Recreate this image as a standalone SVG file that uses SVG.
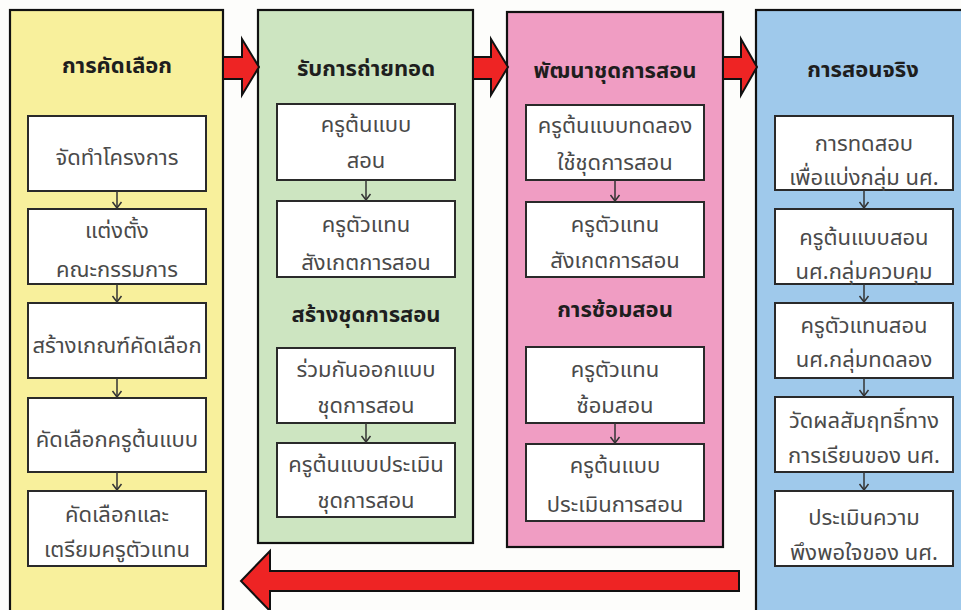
<svg xmlns="http://www.w3.org/2000/svg" width="961" height="610" viewBox="0 0 961 610">
<defs>
<marker id="ahv" markerWidth="12" markerHeight="12" refX="10" refY="6" orient="auto" markerUnits="userSpaceOnUse" viewBox="0 0 12 12">
<path d="M4,1.5 L10,6 L4,10.5" fill="none" stroke="#333" stroke-width="1.5"/>
</marker>
</defs>
<style>
.col{stroke:#111;stroke-width:2.2}
.box{fill:#fff;stroke:#2a2a2a;stroke-width:2}
.t{font-family:"Noto Sans Thai","Noto Sans","DejaVu Sans",sans-serif;font-size:22px;fill:#4a4a4a;text-anchor:middle}
.h{font-family:"Noto Sans Thai","Noto Sans","DejaVu Sans",sans-serif;font-size:22px;font-weight:bold;fill:#1e1e1e;text-anchor:middle}
.ar{fill:#ee2424;stroke:#111;stroke-width:2;stroke-linejoin:miter}
.cn{stroke:#333;stroke-width:1.5;fill:none}
</style>
<rect width="961" height="610" fill="#fdfdfb"/>

<g id="col1">
<rect class="col" x="10" y="10" width="213" height="620" fill="#f8f09c"/>
<text class="h" x="117" y="73">การคัดเลือก</text>
</g>
<g id="col2">
<rect class="col" x="258" y="10" width="215" height="533" fill="#cde5c1"/>
<text class="h" x="366" y="76">รับการถ่ายทอด</text>
<text class="h" x="366" y="322">สร้างชุดการสอน</text>
</g>
<g id="col3">
<rect class="col" x="507" y="12" width="216" height="535" fill="#f09dc3"/>
<text class="h" x="615" y="78">พัฒนาชุดการสอน</text>
<text class="h" x="615" y="317">การซ้อมสอน</text>
</g>
<g id="col4">
<rect class="col" x="756" y="10" width="220" height="620" fill="#9fc9eb"/>
<text class="h" x="863" y="77">การสอนจริง</text>
</g>

<g id="arrows">
<polygon class="ar" points="223,57 242,57 242,39 259,67 242,95 242,79 223,79"/>
<polygon class="ar" points="473,57 491,57 491,39 508,67 491,95 491,79 473,79"/>
<polygon class="ar" points="723,57 741,57 741,39 757,67 741,95 741,79 723,79"/>
<polygon class="ar" points="739,571 270,571 270,551 241,581 270,611 270,591 739,591"/>
</g>

<g id="n1a"><rect class="box" x="28" y="116" width="178" height="75"/><text class="t" x="117" y="165">จัดทำโครงการ</text></g>
<g id="n1b"><rect class="box" x="28" y="209" width="178" height="75"/><text class="t" x="117" y="238">แต่งตั้ง</text><text class="t" x="117" y="277">คณะกรรมการ</text></g>
<g id="n1c"><rect class="box" x="28" y="303" width="178" height="75"/><text class="t" x="117" y="353">สร้างเกณฑ์คัดเลือก</text></g>
<g id="n1d"><rect class="box" x="28" y="398" width="178" height="74"/><text class="t" x="117" y="447">คัดเลือกครูต้นแบบ</text></g>
<g id="n1e"><rect class="box" x="28" y="491" width="178" height="75"/><text class="t" x="117" y="522">คัดเลือกและ</text><text class="t" x="117" y="557">เตรียมครูตัวแทน</text></g>

<g id="n2a"><rect class="box" x="277" y="104" width="178" height="76"/><text class="t" x="366" y="132">ครูต้นแบบ</text><text class="t" x="366" y="168">สอน</text></g>
<g id="n2b"><rect class="box" x="277" y="201" width="178" height="76"/><text class="t" x="366" y="232">ครูตัวแทน</text><text class="t" x="366" y="270">สังเกตการสอน</text></g>
<g id="n2c"><rect class="box" x="277" y="348" width="178" height="75"/><text class="t" x="366" y="377">ร่วมกันออกแบบ</text><text class="t" x="366" y="413">ชุดการสอน</text></g>
<g id="n2d"><rect class="box" x="277" y="443" width="178" height="74"/><text class="t" x="366" y="472">ครูต้นแบบประเมิน</text><text class="t" x="366" y="508">ชุดการสอน</text></g>

<g id="n3a"><rect class="box" x="526" y="105" width="178" height="75"/><text class="t" x="615" y="133">ครูต้นแบบทดลอง</text><text class="t" x="615" y="170">ใช้ชุดการสอน</text></g>
<g id="n3b"><rect class="box" x="526" y="202" width="178" height="75"/><text class="t" x="615" y="232">ครูตัวแทน</text><text class="t" x="615" y="268">สังเกตการสอน</text></g>
<g id="n3c"><rect class="box" x="526" y="347" width="178" height="76"/><text class="t" x="615" y="377">ครูตัวแทน</text><text class="t" x="615" y="413">ซ้อมสอน</text></g>
<g id="n3d"><rect class="box" x="526" y="444" width="178" height="77"/><text class="t" x="615" y="473">ครูต้นแบบ</text><text class="t" x="615" y="512">ประเมินการสอน</text></g>

<g id="n4a"><rect class="box" x="775" y="116" width="178" height="74"/><text class="t" x="864" y="151">การทดสอบ</text><text class="t" x="864" y="185">เพื่อแบ่งกลุ่ม นศ.</text></g>
<g id="n4b"><rect class="box" x="775" y="209" width="178" height="75"/><text class="t" x="864" y="245">ครูต้นแบบสอน</text><text class="t" x="864" y="279">นศ.กลุ่มควบคุม</text></g>
<g id="n4c"><rect class="box" x="775" y="303" width="178" height="75"/><text class="t" x="864" y="333">ครูตัวแทนสอน</text><text class="t" x="864" y="367">นศ.กลุ่มทดลอง</text></g>
<g id="n4d"><rect class="box" x="775" y="397" width="178" height="75"/><text class="t" x="864" y="428">วัดผลสัมฤทธิ์ทาง</text><text class="t" x="864" y="463">การเรียนของ นศ.</text></g>
<g id="n4e"><rect class="box" x="775" y="491" width="178" height="75"/><text class="t" x="864" y="525">ประเมินความ</text><text class="t" x="864" y="560">พึงพอใจของ นศ.</text></g>

<g id="connectors">
<line class="cn" x1="117" y1="191" x2="117" y2="208" marker-end="url(#ahv)"/>
<line class="cn" x1="117" y1="284" x2="117" y2="302" marker-end="url(#ahv)"/>
<line class="cn" x1="117" y1="378" x2="117" y2="397" marker-end="url(#ahv)"/>
<line class="cn" x1="117" y1="472" x2="117" y2="490" marker-end="url(#ahv)"/>
<line class="cn" x1="366" y1="180" x2="366" y2="200" marker-end="url(#ahv)"/>
<line class="cn" x1="366" y1="423" x2="366" y2="442" marker-end="url(#ahv)"/>
<line class="cn" x1="615" y1="180" x2="615" y2="201" marker-end="url(#ahv)"/>
<line class="cn" x1="615" y1="423" x2="615" y2="443" marker-end="url(#ahv)"/>
<line class="cn" x1="864" y1="190" x2="864" y2="208" marker-end="url(#ahv)"/>
<line class="cn" x1="864" y1="284" x2="864" y2="302" marker-end="url(#ahv)"/>
<line class="cn" x1="864" y1="378" x2="864" y2="396" marker-end="url(#ahv)"/>
<line class="cn" x1="864" y1="472" x2="864" y2="490" marker-end="url(#ahv)"/>
</g>
</svg>
